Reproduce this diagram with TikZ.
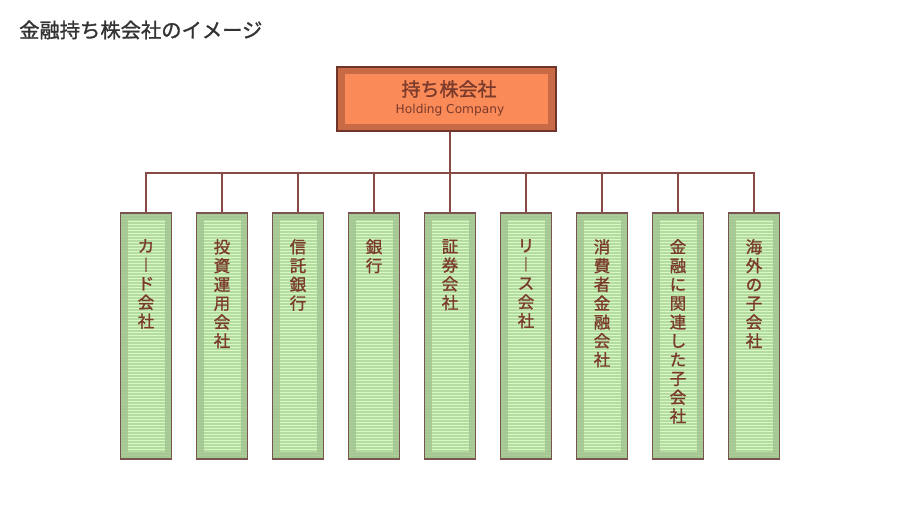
\documentclass[tikz,border=0pt]{standalone}
\usepackage{fontspec}
\setmainfont{Noto Sans CJK JP}
\newfontfamily\jpb[FakeBold=1.3]{Noto Sans CJK JP}
\newfontfamily\latinsans{DejaVu Sans}
\definecolor{linebrown}{HTML}{874A44}
\definecolor{txtbrown}{HTML}{7A3A2C}
\definecolor{topframe}{HTML}{C96A47}
\definecolor{topinner}{HTML}{FA8A57}
\definecolor{topborder}{HTML}{6E3528}
\definecolor{grframe}{HTML}{AECA9E}
\definecolor{grinner}{HTML}{D8F8C4}
\definecolor{grstripe}{HTML}{9CC888}
\definecolor{grborder}{HTML}{7A5450}
\definecolor{titlegray}{HTML}{333333}
\tikzset{
  conn/.style={draw=linebrown, line width=2pt},
  holdbox/.style={rectangle, draw=topborder, line width=2pt, fill=topframe,
    minimum width=219pt, minimum height=64pt, inner sep=0pt,
    path picture={\fill[topinner] ([shift={(8pt,7pt)}]path picture bounding box.south west)
      rectangle ([shift={(-8pt,-7pt)}]path picture bounding box.north east);}},
  subbox/.style={rectangle, draw=grborder, line width=1.6pt, fill=grframe,
    minimum width=51pt, minimum height=246pt, inner sep=0pt,
    path picture={
      \fill[grinner] ([shift={(7pt,7pt)}]path picture bounding box.south west)
        rectangle ([shift={(-7pt,-7pt)}]path picture bounding box.north east);
      \foreach \k in {0,...,83}{
        \draw[grstripe, opacity=0.6, line width=1.3pt]
          ([yshift=-\k*3pt-1pt]path picture bounding box.north west) --
          ([yshift=-\k*3pt-1pt]path picture bounding box.north east);}
    }},
  vlabel/.style={anchor=north, inner sep=0pt, text width=18pt, align=center,
    text=txtbrown, font=\jpb\fontsize{16.5pt}{18.8pt}\selectfont},
}
\newcommand{\vbar}{︱}
\begin{document}
\begin{tikzpicture}[x=1pt,y=-1pt]
\useasboundingbox[fill=white] (0,0) rectangle (900,516);
\node[anchor=west, text=titlegray, font=\jpb\fontsize{20.3pt}{22pt}\selectfont, inner sep=0pt] (title) at (19,30) {金融持ち株会社のイメージ};

\node[holdbox] (hold) at (446.5,99) {};
\node[text=txtbrown, font=\jpb\fontsize{19pt}{20pt}\selectfont, inner sep=0pt] (holdjp) at (449,89) {持ち株会社};
\node[text=txtbrown, font=\latinsans\fontsize{12.2pt}{13pt}\selectfont, inner sep=0pt] (holden) at (450,110) {Holding Company};

\coordinate (hub) at (450,173);
\foreach \i/\txt in {1/{カ\\\vbar\\ド\\会\\社},
                     2/{投\\資\\運\\用\\会\\社},
                     3/{信\\託\\銀\\行},
                     4/{銀\\行},
                     5/{証\\券\\会\\社},
                     6/{リ\\\vbar\\ス\\会\\社},
                     7/{消\\費\\者\\金\\融\\会\\社},
                     8/{金\\融\\に\\関\\連\\し\\た\\子\\会\\社},
                     9/{海\\外\\の\\子\\会\\社}}{
  \pgfmathsetmacro{\cx}{146+(\i-1)*76}
  \node[subbox] (b\i) at (\cx,336) {};
  \node[vlabel] (t\i) at (\cx,239) {\txt};
  \coordinate (j\i) at (\cx,173);
  \draw[conn] (j\i) -- (b\i.north);
}
\draw[conn] (hold.south) ++(3.5,0) coordinate (hs) -- (hub);
\draw[conn] ([xshift=-1pt]j1) -- ([xshift=1pt]j9);
\end{tikzpicture}
\end{document}
